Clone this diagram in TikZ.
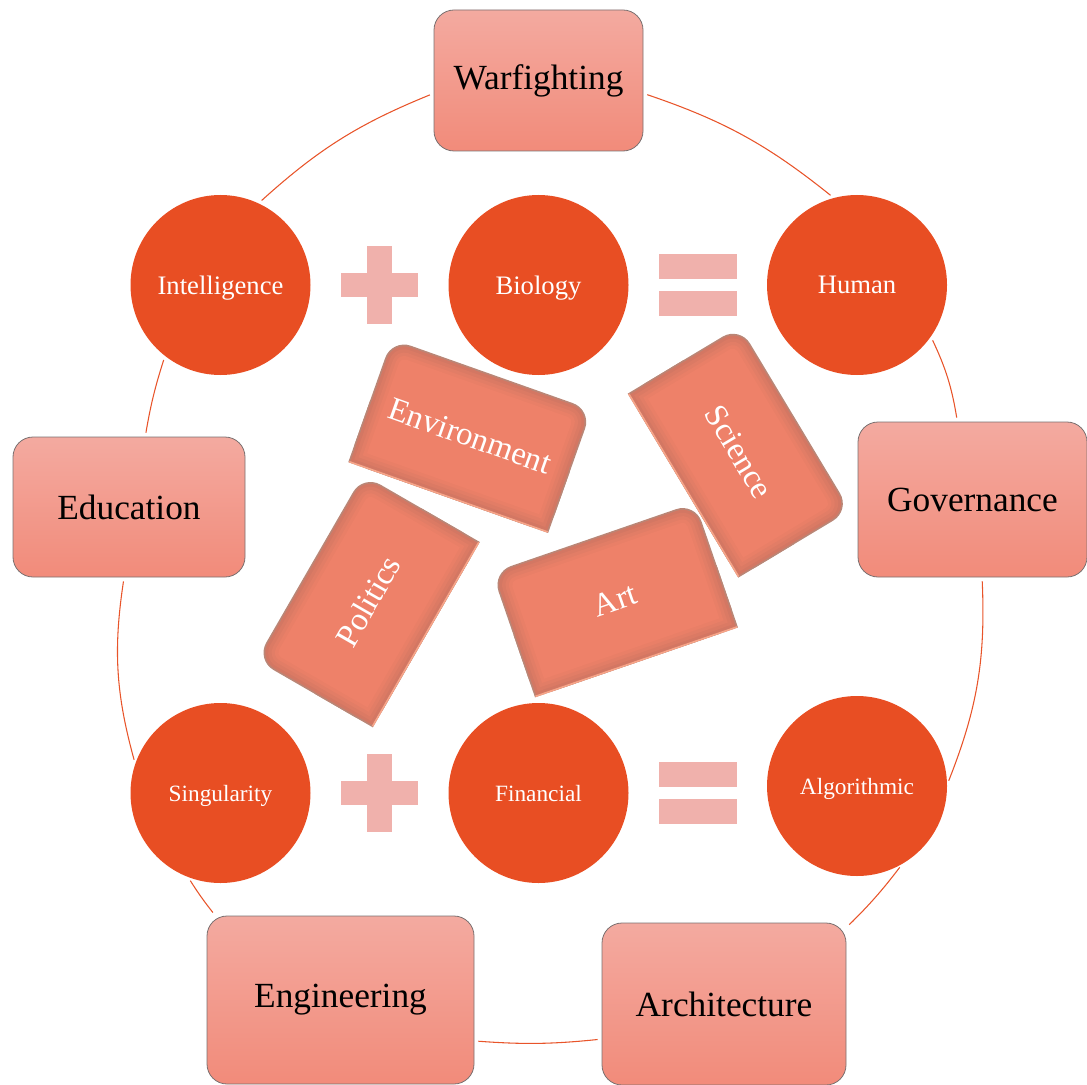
\documentclass[tikz,border=0pt]{standalone}
\usepackage{fontspec}
\setmainfont{Liberation Serif}
\definecolor{circfill}{HTML}{E84E23}
\definecolor{conncol}{HTML}{E8542A}
\definecolor{boxtop}{HTML}{F3AAA0}
\definecolor{boxbot}{HTML}{F28B7A}
\definecolor{boxedge}{HTML}{7A7070}
\definecolor{opcol}{HTML}{F0B1AC}
\definecolor{tbzero}{HTML}{BA8676}
\definecolor{tbone}{HTML}{D37763}
\definecolor{tbtwo}{HTML}{DB7A64}
\definecolor{tbthree}{HTML}{E27D66}
\definecolor{tbfour}{HTML}{E97F67}
\definecolor{tbfive}{HTML}{EE8169}
\definecolor{tbhi}{HTML}{F8A488}
\tikzset{
  circnode/.style={circle, fill=circfill, minimum size=135pt, inner sep=0pt, text=white, text depth=0pt},
  topfont/.style={font=\fontsize{20}{24}\selectfont},
  botfont/.style={font=\fontsize{17.5}{21}\selectfont},
  cyclebox/.style={draw=boxedge, line width=0.6pt, rounded corners=15pt, top color=boxtop, bottom color=boxbot, inner sep=0pt, font=\fontsize{26.5}{31}\selectfont, text=black},
  conn/.style={draw=conncol, line width=0.8pt, shorten <=3pt, shorten >=3pt},
  tiltlabel/.style={text=white, font=\fontsize{24.5}{29}\selectfont, inner sep=0pt},
  opbar/.style={fill=opcol}
}
\newcommand\tiltbox[7]{%
  \begin{scope}[shift={(#2,#3)}, x=1pt, y=1pt, rotate=#4]
    \foreach \d/\c in {0/tbzero,1.3/tbone,3.5/tbtwo,6/tbthree,8.5/tbfour,11/tbfive} {
      \pgfmathsetmacro\rr{max(15-\d,2)}
      \fill[\c, rounded corners=\rr pt] (-#5/2+\d,-#6/2+\d) rectangle (#5/2-\d,#6/2-\d);
      \fill[\c] (-#5/2+\d,-#6/2+\d) rectangle (#5/2-\d,0);
    }
    \draw[tbhi, line width=1.2pt] (-#5/2+0.6,-#6/2+0.6) -- (#5/2-0.6,-#6/2+0.6);
    \node[tiltlabel, transform shape] (#1) at (0,0) {#7};
  \end{scope}}
\begin{document}
\begin{tikzpicture}[x=0.75pt, y=-0.75pt]
\useasboundingbox (0,0) rectangle (1087,1084);

% cycle boxes
\node[cyclebox, minimum width=156.75pt, minimum height=105.75pt] (war) at (538.5,80.5) {Warfighting};
\node[cyclebox, minimum width=171.75pt, minimum height=116.25pt] (gov) at (972.5,499.5) {Governance};
\node[cyclebox, minimum width=183pt, minimum height=121.5pt] (arch) at (724,1004) {Architecture};
\node[cyclebox, minimum width=200.25pt, minimum height=126pt] (eng) at (340.5,1000) {Engineering};
\node[cyclebox, minimum width=174pt, minimum height=105pt] (edu) at (129,507) {Education};

% circles
\node[circnode, topfont] (intel) at (220.5,285) {Intelligence};
\node[circnode, topfont] (bio) at (538.5,285) {Biology};
\node[circnode, topfont] (hum) at (857,285) {Human};
\node[circnode, botfont] (sing) at (220.5,793) {Singularity};
\node[circnode, botfont] (fin) at (538.5,793) {Financial};
\node[circnode, botfont] (alg) at (857,786) {Algorithmic};

% plus and equals signs
\fill[opbar] (367,246) rectangle (392,324);
\fill[opbar] (341,273) rectangle (418,297);
\fill[opbar] (659,254) rectangle (737,279);
\fill[opbar] (659,291) rectangle (737,316);
\fill[opbar] (367,754) rectangle (392,832);
\fill[opbar] (341,781) rectangle (418,805);
\fill[opbar] (659,762) rectangle (737,787);
\fill[opbar] (659,799) rectangle (737,824);

% tilted bevel boxes
\tiltbox{env}{470}{436}{-19.5}{159}{98}{Environment}
\tiltbox{sci}{739}{452}{-59}{161}{98}{Science}
\tiltbox{pol}{368}{601}{60}{160.5}{101}{Politics}
\tiltbox{art}{615}{600}{19}{161}{99}{Art}

% cycle connectors
\draw[conn] (war.-7) to[bend left=10] (hum.105);
\draw[conn] (hum.-35) to[bend left=8] (gov.101);
\draw[conn] (gov.-83) to[bend left=12] (alg.1);
\draw[conn] (alg.-60) to[bend left=4] (arch.32);
\draw[conn] (arch.-164) to[bend left=5] (eng.-17);
\draw[conn] (eng.146) to[bend left=3] (sing.-111);
\draw[conn] (sing.161) to[bend left=12] (edu.-94);
\draw[conn] (edu.77) to[bend left=4] (intel.-128);
\draw[conn] (intel.65) to[bend left=10] (war.-173);
\end{tikzpicture}
\end{document}
